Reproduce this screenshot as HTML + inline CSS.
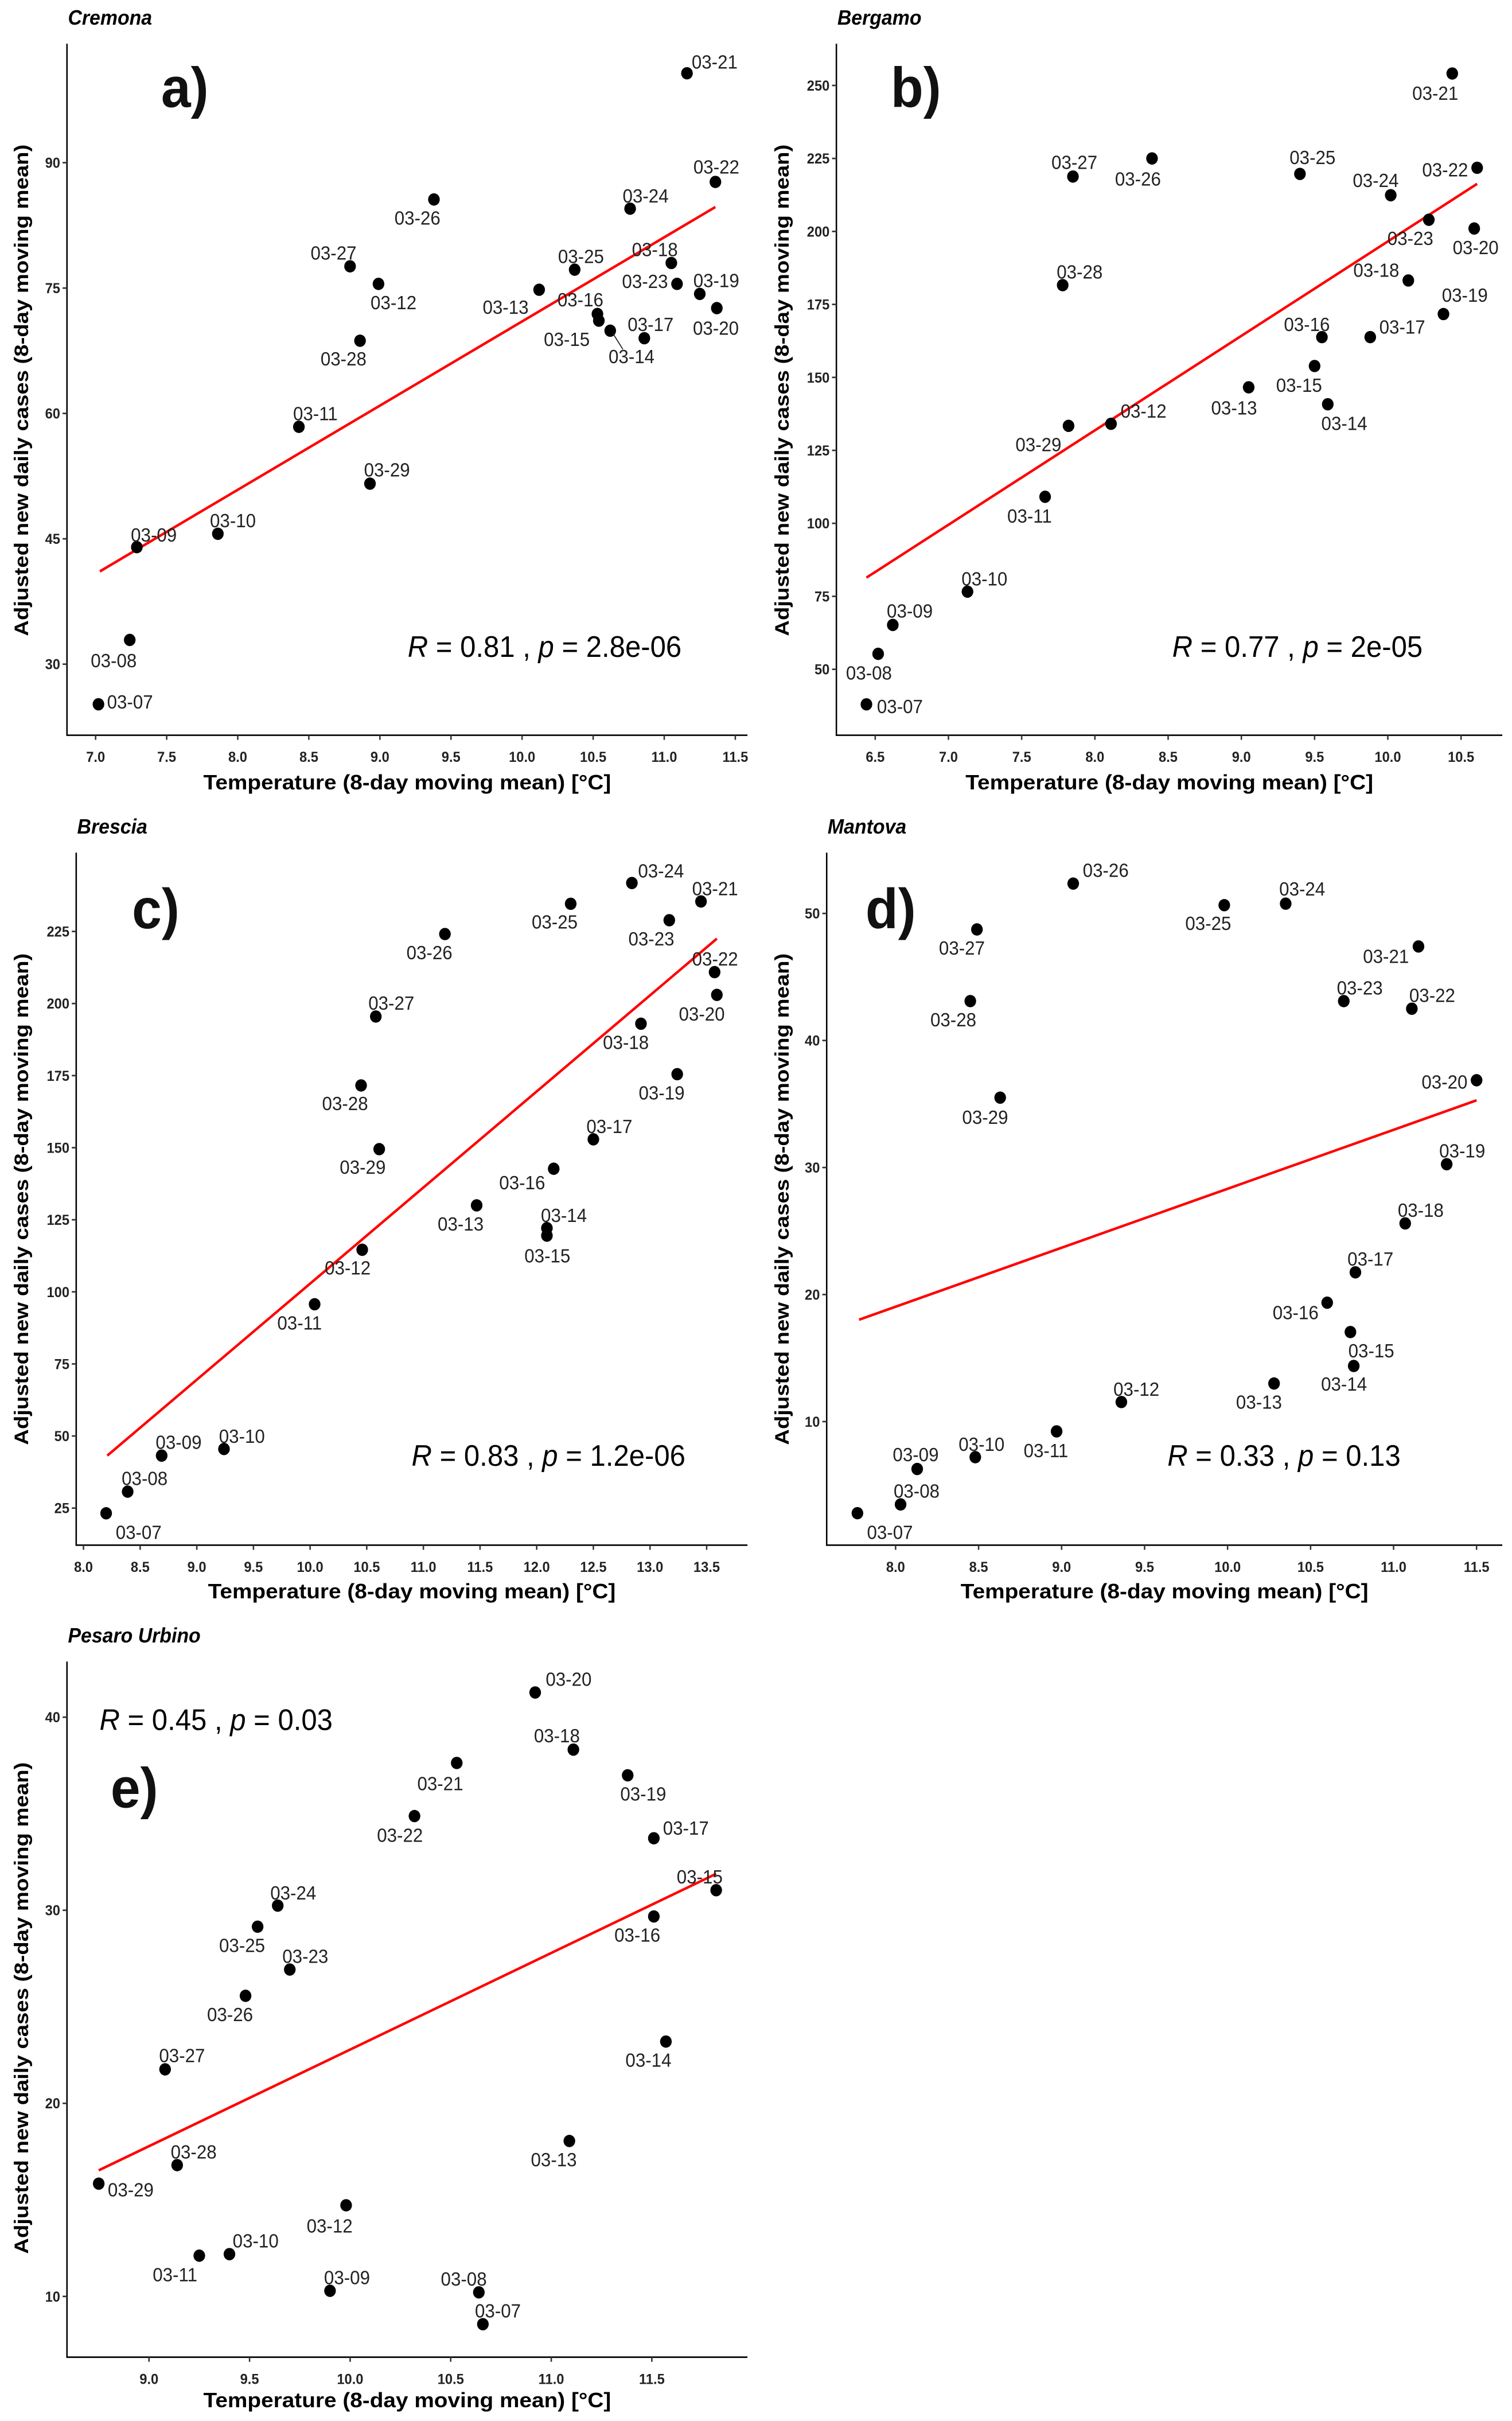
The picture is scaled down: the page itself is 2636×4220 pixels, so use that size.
<!DOCTYPE html>
<html>
<head>
<meta charset="utf-8">
<style>
html,body{margin:0;padding:0;background:#fff;}
body{width:2636px;height:4220px;position:relative;overflow:hidden;font-family:"Liberation Sans",Arial,sans-serif;}
svg.panel{position:absolute;width:1320px;height:1400px;}
</style>
</head>
<body>
<script>
const dates=["03-07","03-08","03-09","03-10","03-11","03-12","03-13","03-14","03-15","03-16","03-17","03-18","03-19","03-20","03-21","03-22","03-23","03-24","03-25","03-26","03-27","03-28","03-29"];

// Cremona
const cremonaTemp=[7.02,7.24,7.29,7.86,8.43,8.99,10.12,10.62,10.54,10.53,10.86,11.05,11.25,11.37,11.16,11.36,11.09,10.76,10.37,9.38,8.79,8.86,8.93];
const cremonaCases=[25.2,32.9,44.0,45.6,58.4,75.5,74.8,69.9,71.1,71.9,69.0,78.0,74.3,72.6,100.7,87.7,75.5,84.5,77.2,85.6,77.6,68.7,51.6];
const cremonaFitX=[7.03,11.36], cremonaFitY=[41.1,84.7];
const cremonaXTicks=["7.0","7.5","8.0","8.5","9.0","9.5","10.0","10.5","11.0","11.5"];
const cremonaYTicks=["30","45","60","75","90"];

// Bergamo
const bergamoTemp=[6.44,6.52,6.62,7.13,7.66,8.11,9.05,9.59,9.50,9.55,9.88,10.14,10.38,10.59,10.44,10.61,10.28,10.02,9.40,8.39,7.85,7.78,7.82];
const bergamoCases=[38.0,55.3,65.2,76.6,109.1,134.1,146.6,140.8,153.9,163.8,163.8,183.2,171.7,201.0,254.1,221.8,204.0,212.4,219.7,225.0,218.8,181.6,133.4];
const bergamoFitX=[6.44,10.61], bergamoFitY=[81.4,216.3];
const bergamoXTicks=["6.5","7.0","7.5","8.0","8.5","9.0","9.5","10.0","10.5"];
const bergamoYTicks=["50","75","100","125","150","175","200","225","250"];

// Brescia
const bresciaTemp=[8.20,8.39,8.69,9.24,10.04,10.46,11.47,12.09,12.09,12.15,12.50,12.92,13.24,13.59,13.45,13.57,13.17,12.84,12.30,11.19,10.58,10.45,10.61];
const bresciaCases=[23.2,30.7,43.2,45.5,95.7,114.6,130.0,122.1,119.5,142.7,152.9,193.0,175.5,203.0,235.4,210.9,228.9,241.8,234.6,224.1,195.5,171.6,149.5];
const bresciaFitX=[8.21,13.59], bresciaFitY=[43.2,222.5];
const bresciaXTicks=["8.0","8.5","9.0","9.5","10.0","10.5","11.0","11.5","12.0","12.5","13.0","13.5"];
const bresciaYTicks=["25","50","75","100","125","150","175","200","225"];

// Mantova
const mantovaTemp=[7.77,8.03,8.13,8.48,8.97,9.36,10.28,10.76,10.74,10.60,10.77,11.07,11.32,11.50,11.15,11.11,10.70,10.35,9.98,9.07,8.49,8.45,8.63];
const mantovaCases=[2.79,3.48,6.27,7.20,9.23,11.54,13.0,14.38,17.05,19.36,21.75,25.6,30.26,36.87,47.4,42.5,43.1,50.77,50.65,52.35,48.74,43.1,35.5];
const mantovaFitX=[7.78,11.50], mantovaFitY=[18.02,35.29];
const mantovaXTicks=["8.0","8.5","9.0","9.5","10.0","10.5","11.0","11.5"];
const mantovaYTicks=["10","20","30","40","50"];

// Pesaro Urbino
const pesaroTemp=[10.66,10.64,9.90,9.40,9.25,9.98,11.09,11.57,11.82,11.51,11.51,11.11,11.38,10.92,10.53,10.32,9.70,9.64,9.54,9.48,9.08,9.14,8.75];
const pesaroCases=[8.56,10.21,10.29,12.19,12.11,14.72,18.05,23.2,31.04,29.68,33.73,38.32,36.99,41.28,37.63,34.88,26.93,30.24,29.15,25.57,21.76,16.8,15.84];
const pesaroFitX=[8.75,11.82], pesaroFitY=[16.53,31.89];
const pesaroXTicks=["9.0","9.5","10.0","10.5","11.0","11.5"];
const pesaroYTicks=["10","20","30","40"];

// layout: label offsets (panel units) relative to each point
const offA=[[65,-5],[-33,40],[35,-24],[31,-26],[34,-26],[31,36],[-69,34],[44,50],[-66,36],[-35,-28],[13,-27],[-34,-26],[34,-26],[-2,39],[57,-22],[2,-29],[-66,-5],[32,-25],[13,-26],[-34,36],[-34,-26],[-34,35],[35,-27]];
const offB=[[69,4],[-19,37],[35,-27],[35,-25],[-32,37],[67,-25],[-30,40],[34,37],[-32,37],[-31,-25],[66,-20],[-66,-20],[44,-37],[3,37],[-35,38],[-66,4],[-38,36],[-31,-29],[26,-32],[-29,40],[3,-28],[35,-26],[-62,36]];
const offC=[[67,37],[35,-26],[35,-26],[37,-25],[-31,36],[-30,35],[-33,36],[35,-25],[1,39],[-65,27],[33,-25],[-31,36],[-32,36],[-31,37],[29,-25],[1,-26],[-37,36],[60,-24],[-33,35],[-32,36],[32,-26],[-33,35],[-34,35]];
const offD=[[67,37],[33,-26],[-3,-28],[13,-25],[-22,37],[31,-25],[-31,36],[-20,35],[43,36],[-65,19],[31,-26],[32,-26],[32,-26],[-66,3],[-67,19],[42,-26],[33,-26],[34,-29],[-33,35],[67,-26],[-31,36],[-35,36],[-31,38]];
const offE=[[31,-26],[-31,-26],[35,-26],[54,-26],[-50,37],[-34,40],[-32,36],[-36,36],[-34,-26],[-34,36],[66,-20],[-34,-27],[32,36],[69,-26],[-34,40],[-30,37],[32,-26],[32,-25],[-32,36],[-32,36],[35,-27],[34,-26],[66,12]];

const NS="http://www.w3.org/2000/svg";
function mk(tag,attrs,parent){const e=document.createElementNS(NS,tag);for(const k in attrs)e.setAttribute(k,attrs[k]);if(parent)parent.appendChild(e);return e;}

function drawPanel(cfg){
  const svg=mk("svg",{"class":"panel",viewBox:"0 0 1560 1560",preserveAspectRatio:"none"});
  svg.style.left=cfg.left+"px";svg.style.top=cfg.top+"px";
  
  
  document.body.appendChild(svg);
  const xs=v=>cfg.xp0+(v-cfg.xv0)*(cfg.xp1-cfg.xp0)/(cfg.xv1-cfg.xv0);
  const ys=v=>cfg.yp0+(v-cfg.yv0)*(cfg.yp1-cfg.yp0)/(cfg.yv1-cfg.yv0);
  const t=mk("text",{x:cfg.axL+2,y:48,"font-size":40,"font-weight":"bold","font-style":"italic",fill:"#000"},svg);
  t.textContent=cfg.title;
  
  
  const ax=mk("path",{d:`M${cfg.axL},85 V${cfg.axB} H1540`,stroke:"#000","stroke-width":3,fill:"none"},svg);
  
  
  cfg.xticks.forEach(s=>{
    const px=xs(parseFloat(s));
    mk("line",{x1:px,x2:px,y1:cfg.axB,y2:cfg.axB+9,stroke:"#333","stroke-width":3},svg);
    const tl=mk("text",{x:px,y:cfg.axB+52,"font-size":28,"font-weight":"bold","text-anchor":"middle",fill:"#222"},svg);
    tl.textContent=s;
    
    
  });
  cfg.yticks.forEach(s=>{
    const py=ys(parseFloat(s));
    mk("line",{x1:cfg.axL-9,x2:cfg.axL,y1:py,y2:py,stroke:"#333","stroke-width":3},svg);
    const tl=mk("text",{x:cfg.axL-14,y:py+10,"font-size":28,"font-weight":"bold","text-anchor":"end",fill:"#222"},svg);
    tl.textContent=s;
    
    
  });
  const xt=mk("text",{x:(cfg.axL+1540)/2,y:1533,"font-size":40,"font-weight":"bold","text-anchor":"middle",fill:"#000",textLength:840,lengthAdjust:"spacingAndGlyphs"},svg);
  xt.textContent="Temperature (8-day moving mean) [°C]";
  
  
  const yt=mk("text",{x:0,y:0,"font-size":40,"font-weight":"bold","text-anchor":"middle",fill:"#000",textLength:955,lengthAdjust:"spacingAndGlyphs",transform:`translate(${cfg.ytx},758) rotate(-90)`},svg);
  yt.textContent="Adjusted new daily cases (8-day moving mean)";
  
  
  const pl=mk("text",{x:cfg.letX,y:cfg.letY,"font-size":110,"font-weight":"bold",fill:"#111"},svg);
  pl.textContent=cfg.letter;
  
  
  const fl=mk("line",{x1:xs(cfg.fitX[0]),y1:ys(cfg.fitY[0]),x2:xs(cfg.fitX[1]),y2:ys(cfg.fitY[1]),stroke:"#ff0000","stroke-width":5},svg);
  
  
  cfg.xv.forEach((v,i)=>{
    const cx=xs(v), cy=ys(cfg.yv[i]);
    const c=mk("circle",{cx:cx,cy:cy,r:12,fill:"#000"},svg);
    
    
    const o=cfg.off[i];
    const lb=mk("text",{x:cx+o[0],y:cy+o[1]+13,"font-size":37,"text-anchor":"middle",fill:"#222"},svg);
    lb.textContent=dates[i];
    
    
    if(cfg.leader===i){mk("line",{x1:cx+6,y1:cy+6,x2:cx+o[0]-18,y2:cy+o[1]-14,stroke:"#222","stroke-width":2},svg);}
  });
  const st=mk("text",{x:cfg.stX,y:cfg.stY,"font-size":58,fill:"#000"},svg);
  
  
  const a=mk("tspan",{"font-style":"italic"},st);a.textContent="R";
  const b=mk("tspan",{},st);b.textContent=" = "+cfg.r+" , ";
  const c2=mk("tspan",{"font-style":"italic"},st);c2.textContent="p";
  const d=mk("tspan",{},st);d.textContent=" = "+cfg.p;
}

drawPanel({name:"cremona",title:"Cremona",letter:"a)",left:0,top:0,axL:138,axB:1428,ytx:58,
  xv0:7.0,xp0:197,xv1:11.5,xp1:1515,yv0:30,yp0:1290,yv1:90,yp1:316,
  xticks:cremonaXTicks,yticks:cremonaYTicks,xv:cremonaTemp,yv:cremonaCases,fitX:cremonaFitX,fitY:cremonaFitY,
  off:offA,leader:7,letX:332,letY:208,stX:840,stY:1276,r:"0.81",p:"2.8e-06"});
drawPanel({name:"bergamo",title:"Bergamo",letter:"b)",left:1316,top:0,axL:168,axB:1428,ytx:70,
  xv0:6.5,xp0:248,xv1:10.5,xp1:1455,yv0:50,yp0:1300,yv1:250,yp1:166,
  xticks:bergamoXTicks,yticks:bergamoYTicks,xv:bergamoTemp,yv:bergamoCases,fitX:bergamoFitX,fitY:bergamoFitY,
  off:offB,leader:-1,letX:280,letY:208,stX:860,stY:1276,r:"0.77",p:"2e-05"});
drawPanel({name:"brescia",title:"Brescia",letter:"c)",left:0,top:1410,axL:157,axB:1430,ytx:58,
  xv0:8.0,xp0:172,xv1:13.5,xp1:1456,yv0:25,yp0:1358,yv1:225,yp1:238,
  xticks:bresciaXTicks,yticks:bresciaYTicks,xv:bresciaTemp,yv:bresciaCases,fitX:bresciaFitX,fitY:bresciaFitY,
  off:offC,leader:-1,letX:272,letY:232,stX:848,stY:1276,r:"0.83",p:"1.2e-06"});
drawPanel({name:"mantova",title:"Mantova",letter:"d)",left:1316,top:1410,axL:148,axB:1430,ytx:70,
  xv0:8.0,xp0:290,xv1:11.5,xp1:1487,yv0:10,yp0:1190,yv1:50,yp1:203,
  xticks:mantovaXTicks,yticks:mantovaYTicks,xv:mantovaTemp,yv:mantovaCases,fitX:mantovaFitX,fitY:mantovaFitY,
  off:offD,leader:-1,letX:228,letY:232,stX:850,stY:1276,r:"0.33",p:"0.13"});
drawPanel({name:"pesaro-urbino",title:"Pesaro Urbino",letter:"e)",left:0,top:2820,axL:138,axB:1436,ytx:58,
  xv0:9.0,xp0:307,xv1:11.5,xp1:1343,yv0:10,yp0:1318,yv1:40,yp1:193,
  xticks:pesaroXTicks,yticks:pesaroYTicks,xv:pesaroTemp,yv:pesaroCases,fitX:pesaroFitX,fitY:pesaroFitY,
  off:offE,leader:-1,letX:228,letY:368,stX:205,stY:218,r:"0.45",p:"0.03"});
</script>
</body>
</html>
